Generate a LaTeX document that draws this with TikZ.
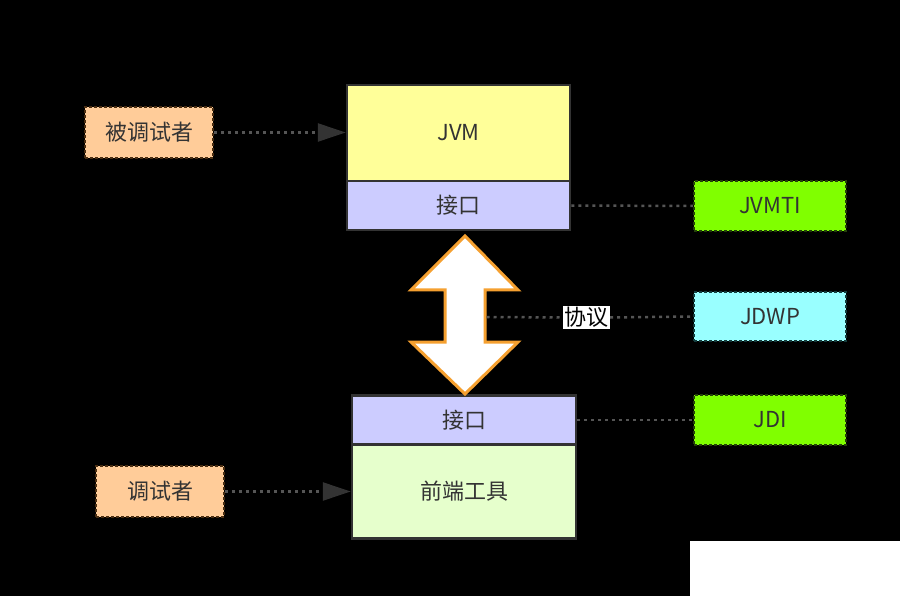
\documentclass[tikz,border=0pt]{standalone}
\usepackage{fontspec}
\setmainfont{Noto Sans CJK SC}
\usetikzlibrary{arrows.meta}
\definecolor{bgblack}{HTML}{000000}
\definecolor{peach}{HTML}{FFCC99}
\definecolor{peachline}{HTML}{4A2E12}
\definecolor{jvmyellow}{HTML}{FFFF99}
\definecolor{ifblue}{HTML}{CCCCFF}
\definecolor{feGreen}{HTML}{E6FFCC}
\definecolor{lime}{HTML}{80FF00}
\definecolor{limeline}{HTML}{24400A}
\definecolor{cyanbox}{HTML}{99FFFF}
\definecolor{cyanline}{HTML}{143C3C}
\definecolor{boxline}{HTML}{333333}
\definecolor{txt}{HTML}{333333}
\definecolor{dotgray}{HTML}{555555}
\definecolor{arrorange}{HTML}{F5A030}
\tikzset{
  solidbox/.style={draw=boxline, line width=2.5pt, text=txt, minimum width=#1, inner sep=0pt},
  dashbox/.style={line width=2.2pt, dash pattern=on 3pt off 2pt, text=txt, minimum width=128pt, minimum height=51pt, inner sep=0pt},
  dotline/.style={draw=dotgray, line width=2.5pt, dash pattern=on 3pt off 4pt},
  dotarrow/.style={dotline, -{Triangle[length=28pt,width=18pt,fill=boxline,color=boxline,sep=0pt]}},
  txtfont/.style={font=\fontsize{22}{26}\selectfont}
}
\begin{document}
\begin{tikzpicture}[x=1pt,y=-1pt,txtfont]
\useasboundingbox (0,0) rectangle (900,596);
\fill[bgblack] (0,0) rectangle (900,596);
\fill[white] (690,541) rectangle (900,596);

% main boxes
\node[solidbox=223pt, minimum height=96pt, fill=jvmyellow] (jvm) at (458.5,133) {JVM};
\node[solidbox=223pt, minimum height=49pt, fill=ifblue] (jk1) at (458.5,205.5) {接口};
\node[solidbox=224pt, minimum height=49pt, fill=ifblue] (jk2) at (464,420) {接口};
\node[solidbox=224pt, minimum height=94pt, fill=feGreen] (qd) at (464,491.5) {前端工具};

% side boxes
\node[dashbox, fill=peach, draw=peachline] (btsz) at (149,132.5) {被调试者};
\node[dashbox, fill=peach, draw=peachline] (tsz) at (160,491.5) {调试者};
\node[dashbox, minimum width=152pt, minimum height=50pt, fill=lime, draw=limeline] (jvmti) at (770,206) {JVMTI};
\node[dashbox, minimum width=152pt, minimum height=49pt, fill=cyanbox, draw=cyanline] (jdwp) at (770,316.5) {JDWP};
\node[dashbox, minimum width=152pt, minimum height=50pt, fill=lime, draw=limeline] (jdi) at (770,420) {JDI};

% double arrow
\draw[draw=arrorange, line width=3pt, fill=white, line join=miter]
  (465,236) -- (518,290) -- (485,290) -- (485,342) -- (518,342) -- (465,394)
  -- (411,342) -- (445,342) -- (445,290) -- (411,290) -- cycle;
\coordinate (arr) at (486.5,317);

% label
\node[fill=white, text=black, inner sep=1.5pt] (xy) at (586.5,317.5) {协议};

% connectors
\draw[dotarrow] (btsz.east) -- (jvm.west |- btsz.east);
\draw[dotarrow] (tsz.east) -- (qd.west |- tsz.east);
\draw[dotline] (jk1.east) -- (jvmti.west);
\draw[dotline] (jk2.east) -- (jdi.west);
\draw[dotline] (arr) -- (xy.west);
\draw[dotline] (xy.east) -- (jdwp.west);
\end{tikzpicture}
\end{document}
